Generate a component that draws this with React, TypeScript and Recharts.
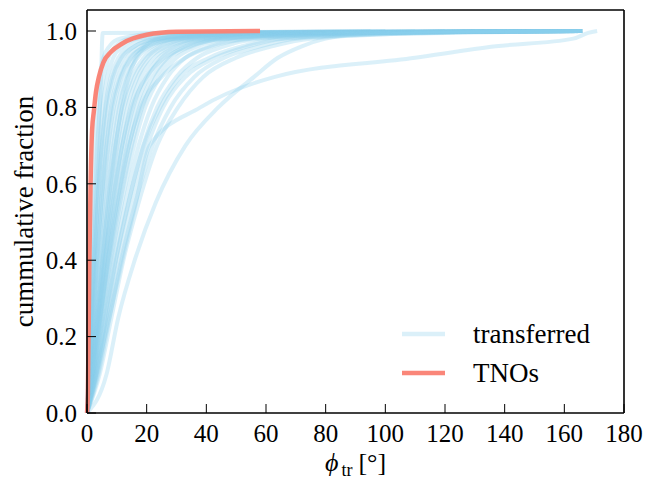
import { LineChart, Line, XAxis, YAxis, Legend, Label } from 'recharts';

const FONT = 'Liberation Serif, DejaVu Serif, serif';
const BLUE = '#87CEEB';
const RED = '#FA8072';

// cumulative fraction levels shared by every transferred run
const fractions = [0, 0.1, 0.25, 0.4, 0.55, 0.7, 0.8, 0.88, 0.93, 0.96, 0.98, 0.995, 1];

// phi_tr (deg) at which each transferred run reaches the levels above
const transferredPhi: number[][] = [
  [0, 0.4, 0.9, 1.3, 1.8, 2.5, 3.2, 4.2, 5.5, 7.5, 11, 25, 95],
  [0, 0.6, 1.4, 2.2, 3.0, 3.8, 4.3, 4.7, 4.9, 5.0, 5.1, 5.3, 160],
  [0, 0.5, 1.2, 1.8, 2.5, 3.4, 4.3, 5.6, 7.2, 9.5, 14, 30, 120],
  [0, 0.6, 1.4, 2.2, 3.1, 4.2, 5.2, 6.8, 8.8, 12, 17, 38, 150],
  [0, 0.8, 1.7, 2.6, 3.6, 4.9, 6.1, 8.0, 10.5, 14, 20, 42, 110],
  [0, 1.0, 2.0, 3.0, 4.2, 5.6, 7.0, 9.2, 12, 16, 23, 50, 166],
  [0, 1.1, 2.3, 3.4, 4.8, 6.4, 8.0, 10.5, 13.5, 18, 25, 48, 130],
  [0, 1.0, 2.4, 3.8, 5.3, 7.2, 9.0, 11.5, 15, 19, 27, 55, 166],
  [0, 1.2, 2.7, 4.2, 5.9, 8.0, 10, 12.8, 16, 21, 29, 60, 145],
  [0, 1.4, 3.0, 4.6, 6.5, 8.8, 10.8, 13.5, 17, 22, 30, 58, 166],
  [0, 1.3, 3.2, 5.0, 7.0, 9.5, 11.8, 15, 19, 24, 32, 62, 140],
  [0, 1.5, 3.4, 5.4, 7.6, 10.2, 12.5, 16, 20, 25, 34, 70, 166],
  [0, 1.6, 3.7, 5.8, 8.2, 11, 13.5, 17, 21, 27, 36, 68, 155],
  [0, 1.8, 4.0, 6.2, 8.8, 11.8, 14.5, 18, 22.5, 28, 38, 75, 166],
  [0, 2.0, 4.3, 6.6, 9.4, 12.6, 15.5, 19.5, 24, 30, 40, 80, 160],
  [0, 2.1, 4.6, 7.0, 10, 13.4, 16.5, 20.5, 25, 31, 42, 78, 166],
  [0, 2.3, 4.8, 7.4, 10.5, 14.2, 17.5, 22, 27, 33, 44, 85, 150],
  [0, 2.5, 5.1, 7.8, 11.1, 15, 18.5, 23, 28, 35, 46, 88, 166],
  [0, 2.6, 5.4, 8.2, 11.7, 15.8, 19.5, 24.5, 30, 37, 48, 92, 166],
  [0, 2.9, 6.0, 9.0, 12.8, 17.3, 21.5, 27, 33, 41, 53, 95, 160],
  [0, 3.2, 6.5, 9.8, 14, 18.8, 23.5, 30, 37, 46, 58, 100, 166],
  [0, 3.5, 7.0, 10.6, 15, 20.3, 25.5, 33, 43, 54, 66, 105, 166],
  [0, 3.8, 7.6, 11.4, 16.2, 22, 28, 36, 46, 58, 70, 110, 165],
  [0, 4.2, 8.2, 12.2, 17.3, 23.5, 30.5, 39, 50, 62, 75, 115, 166],
  [0, 1.6, 3.5, 5.2, 7.2, 9.6, 11.6, 14, 16.5, 19.5, 24, 40, 100],
  [0, 0.8, 2.0, 3.3, 4.8, 6.6, 8.4, 11.2, 14.5, 20, 30, 65, 166],
  [0, 2.0, 4.5, 7.0, 10.2, 14, 18, 25, 33, 42, 55, 100, 166],
  [0, 3.0, 6.2, 9.6, 13.8, 19, 24.5, 31.2, 41, 52, 64, 120, 166],
  [0, 0.7, 1.6, 2.5, 3.6, 5.0, 6.4, 8.6, 11.5, 16, 24, 55, 140],
  [0, 1.7, 3.8, 6.0, 8.6, 11.8, 15, 20, 26, 34, 46, 90, 166],
  [0, 6.5, 10.5, 16, 23, 33, 44, 56, 64, 72, 80, 97, 140],
  [0, 3, 7.5, 11.8, 16.4, 21, 38, 63, 110, 137, 163, 168, 171],
];

// TNO distribution
const tnoPhi = [0, 0.3, 0.8, 1.2, 1.7, 2.3, 3, 4, 5.5, 8, 12, 20, 30, 58];
const tnoFrac = [0, 0.05, 0.4, 0.6, 0.74, 0.79, 0.84, 0.88, 0.918, 0.945, 0.968, 0.99, 0.998, 1];

const xTicks = [0, 20, 40, 60, 80, 100, 120, 140, 160, 180];
const yTicks = [0, 0.2, 0.4, 0.6, 0.8, 1.0];

const transferredCurves = transferredPhi.map((row) =>
  row.map((phi, i) => ({ phi, f: fractions[i] }))
);
const tnoCurve = tnoPhi.map((phi, i) => ({ phi, f: tnoFrac[i] }));

const tickStyle = { fill: '#000', fontSize: 25, style: { fontFamily: FONT } };
const axisLine = { stroke: '#000', strokeWidth: 1.6 };
const tickLine = { stroke: '#000', strokeWidth: 1 };

const XLabel = (props: any) => {
  const { x, y, width } = props.viewBox;
  return (
    <text x={x + width / 2} y={y + 58} textAnchor="middle" style={{ fontFamily: FONT }} fontSize={26} fill="#000">
      <tspan fontStyle="italic">{'\u03D5'}</tspan>
      <tspan fontSize={18} dx={3} dy={5}>tr</tspan>
      <tspan dx={6} dy={-5}>{'[\u00B0]'}</tspan>
    </text>
  );
};

const YLabel = (props: any) => {
  const { y, height } = props.viewBox;
  const cy = y + height / 2;
  return (
    <text x={33} y={cy} transform={`rotate(-90 33 ${cy})`} textAnchor="middle" style={{ fontFamily: FONT }} fontSize={27} fill="#000">
      cummulative fraction
    </text>
  );
};

const LegendBox = () => (
  <svg width={230} height={80} style={{ display: 'block' }}>
    <line x1={2} x2={45} y1={20} y2={20} stroke={BLUE} strokeOpacity={0.3} strokeWidth={4.5} />
    <text x={73} y={29} style={{ fontFamily: FONT }} fontSize={27} fill="#000">transferred</text>
    <line x1={2} x2={45} y1={59} y2={59} stroke={RED} strokeOpacity={0.95} strokeWidth={4.5} />
    <text x={73} y={68} style={{ fontFamily: FONT }} fontSize={27} fill="#000">TNOs</text>
  </svg>
);

export default function App() {
  return (
    <div style={{ position: 'absolute', left: 0, top: 0, background: '#fff', fontFamily: FONT }}>
      <LineChart width={646} height={483} margin={{ top: 0, right: 0, bottom: 0, left: 0 }}>
        <XAxis
          xAxisId="x"
          type="number"
          dataKey="phi"
          domain={[0, 180]}
          ticks={xTicks}
          interval={0}
          height={70}
          tickSize={-9}
          tickMargin={20}
          tick={tickStyle}
          axisLine={axisLine}
          tickLine={tickLine}
        >
          <Label content={XLabel} />
        </XAxis>
        <XAxis
          xAxisId="top"
          orientation="top"
          type="number"
          domain={[0, 180]}
          ticks={xTicks}
          interval={0}
          height={10}
          tickSize={-9}
          tick={false}
          axisLine={axisLine}
          tickLine={tickLine}
        />
        <YAxis
          yAxisId="y"
          type="number"
          domain={[0, 1.055]}
          ticks={yTicks}
          interval={0}
          width={87}
          tickSize={-9}
          tickMargin={19}
          tickFormatter={(v: number) => v.toFixed(1)}
          tick={tickStyle}
          axisLine={axisLine}
          tickLine={tickLine}
        >
          <Label content={YLabel} />
        </YAxis>
        <YAxis
          yAxisId="right"
          orientation="right"
          type="number"
          domain={[0, 1.055]}
          ticks={yTicks}
          interval={0}
          width={22}
          tickSize={-9}
          tick={false}
          axisLine={axisLine}
          tickLine={tickLine}
        />
        <Legend
          layout="vertical"
          align="center"
          verticalAlign="middle"
          content={() => <LegendBox />}
          wrapperStyle={{ left: 400, top: 314, width: 230 }}
        />
        {transferredCurves.map((data, i) => (
          <Line
            key={i}
            xAxisId="x"
            yAxisId="y"
            data={data}
            dataKey="f"
            name="transferred"
            type="monotone"
            stroke={BLUE}
            strokeOpacity={0.3}
            strokeWidth={4}
            dot={false}
            activeDot={false}
            isAnimationActive={false}
          />
        ))}
        <Line
          xAxisId="x"
          yAxisId="y"
          data={tnoCurve}
          dataKey="f"
          name="TNOs"
          type="monotone"
          stroke={RED}
          strokeOpacity={0.95}
          strokeWidth={4.5}
          dot={false}
          activeDot={false}
          isAnimationActive={false}
        />
      </LineChart>
    </div>
  );
}
